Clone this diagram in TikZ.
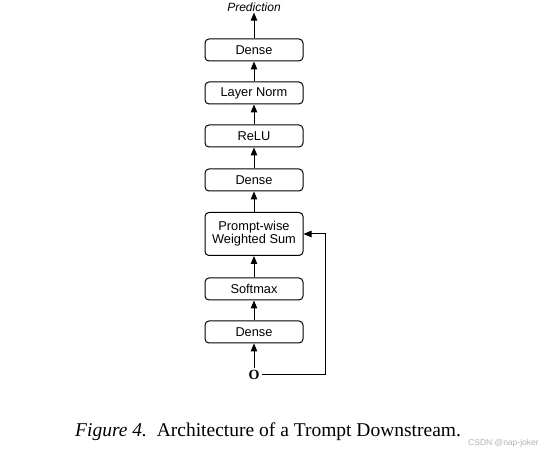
\documentclass[tikz,border=0pt]{standalone}
\usepackage{fontspec}
\setmainfont{Liberation Serif}
\newfontfamily\arialf{Liberation Sans}
\usetikzlibrary{arrows.meta}
\begin{document}
\begin{tikzpicture}[x=1pt,y=1pt,
  blk/.style={draw,line width=1pt,rounded corners=4pt,minimum width=98pt,minimum height=22pt,inner sep=1pt,font=\arialf\fontsize{12.8}{14}\selectfont,align=center},
  arr/.style={-{Triangle[length=8pt,width=6.5pt]},line width=1pt}]
\useasboundingbox (0,0) rectangle (547,457);
\node[blk] (d3) at (254,407) {Dense};
\node[blk] (ln) at (254,364) {Layer Norm};
\node[blk] (re) at (254,321) {ReLU};
\node[blk] (d2) at (254,277) {Dense};
\node[blk,minimum height=43pt] (pw) at (254,223) {Prompt-wise\\[-1pt]Weighted Sum};
\node[blk] (sm) at (254,168) {Softmax};
\node[blk] (d1) at (254,125) {Dense};
\node[font=\bfseries\fontsize{14}{15}\selectfont,inner sep=2pt] (o) at (254,82) {O};
\node[font=\arialf\itshape\fontsize{12}{14}\selectfont,inner sep=1pt] (pr) at (254,450) {Prediction};
\coordinate (c1) at (325,82);
\coordinate (c2) at (325,223);
\draw[arr] (o) -- (d1);
\draw[arr] (d1) -- (sm);
\draw[arr] (sm) -- (pw);
\draw[arr] (pw) -- (d2);
\draw[arr] (d2) -- (re);
\draw[arr] (re) -- (ln);
\draw[arr] (ln) -- (d3);
\draw[arr] (d3) -- (pr);
\draw[arr] (o.east) -- (c1) -- (c2) -- (pw.east);
\node[anchor=west,inner sep=0pt,font=\fontsize{19.5}{21}\selectfont] (cap) at (75,25) {\textit{Figure 4.}\ \ Architecture of a Trompt Downstream.};
\node[anchor=west,inner sep=0pt,text=black!30,font=\arialf\fontsize{8.5}{10}\selectfont] (wm) at (468,14) {CSDN @nap-joker};
\end{tikzpicture}
\end{document}
